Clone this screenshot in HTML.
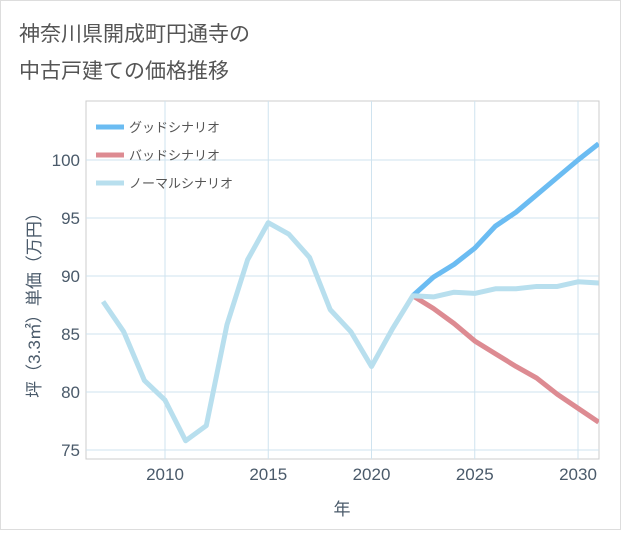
<!DOCTYPE html>
<html><head><meta charset="utf-8"><style>
body{margin:0;background:#fff;font-family:"Liberation Sans","Noto Sans CJK JP",sans-serif;}
#wrap{position:relative;width:621px;height:530px;box-sizing:border-box;border:1px solid #ddd;background:#fff;}
</style></head><body>
<div id="wrap">
<svg id="chart" width="621" height="530">
<text x="18" y="40" font-size="21" fill="#555">神奈川県開成町円通寺の</text>
<text x="18" y="77" font-size="21" fill="#555">中古戸建ての価格推移</text>
<g id="grid"></g><g id="axes"></g><g id="series"></g><g id="legend"></g>
</svg></div>
<script>
const years=[2007,2008,2009,2010,2011,2012,2013,2014,2015,2016,2017,2018,2019,2020,2021,2022,2023,2024,2025,2026,2027,2028,2029,2030,2031];
const normalVals=[87.8,85.2,81,79.3,75.8,77.1,85.8,91.4,94.6,93.6,91.6,87.1,85.2,82.2,85.4,88.3,88.2,88.6,88.5,88.9,88.9,89.1,89.1,89.5,89.4];
const futureYears=[2022,2023,2024,2025,2026,2027,2028,2029,2030,2031];
const goodVals=[88.3,89.9,91,92.4,94.3,95.5,97,98.5,100,101.4];
const badVals=[88.3,87.2,85.9,84.4,83.3,82.2,81.2,79.8,78.6,77.4];
const xTicks=[2010,2015,2020,2025,2030];
const yTicks=[75,80,85,90,95,100];
const legendLabels=["グッドシナリオ","バッドシナリオ","ノーマルシナリオ"];
const NS="http://www.w3.org/2000/svg";
const L=85,R=598,T=100,B=458;
const xS=y=>164+(y-2010)*(577-164)/20;
const yS=v=>449-(v-75)*(449-159)/25;
function mk(t,a,p){const e=document.createElementNS(NS,t);for(const k in a)e.setAttribute(k,a[k]);p.appendChild(e);return e;}
const grid=document.getElementById('grid'),axes=document.getElementById('axes'),ser=document.getElementById('series'),leg=document.getElementById('legend');
mk('rect',{x:L,y:T,width:R-L,height:B-T,fill:'none',stroke:'#ccc'},grid);
xTicks.forEach(t=>{const l=mk('line',{x1:xS(t),x2:xS(t),y1:T,y2:B,stroke:'#cfe3ef'},grid);

const tx=mk('text',{x:xS(t),y:B+21,'text-anchor':'middle','font-size':17,fill:'#4a5a6a'},axes);tx.textContent=t;
});
yTicks.forEach(t=>{const l=mk('line',{x1:L,x2:R,y1:yS(t),y2:yS(t),stroke:'#cfe3ef'},grid);

const tx=mk('text',{x:L-6,y:yS(t)+6,'text-anchor':'end','font-size':17,fill:'#4a5a6a'},axes);tx.textContent=t;
});
const xt=mk('text',{x:341,y:514,'text-anchor':'middle','font-size':17,fill:'#4a5a6a'},axes);xt.textContent='年';

const yt=mk('text',{x:0,y:0,'text-anchor':'middle','font-size':17,fill:'#4a5a6a',transform:'translate(39,300) rotate(-90)'},axes);yt.textContent='坪（3.3㎡）単価（万円）';

const cp=mk('clipPath',{id:'cp'},ser);mk('rect',{x:L,y:T,width:R-L,height:B-T},cp);
function line(xs,vs,col,name){const p=mk('polyline',{points:xs.map((y,i)=>xS(y)+','+yS(vs[i])).join(' '),fill:'none',stroke:col,'stroke-width':5,'stroke-linejoin':'round','clip-path':'url(#cp)'},ser);
}
line(futureYears,goodVals,'#6bbcf2','good-scenario-line');
line(futureYears,badVals,'#dd8b92','bad-scenario-line');
line(years,normalVals,'#b8dfee','normal-scenario-line');
const cols=['#6bbcf2','#dd8b92','#b8dfee'];
legendLabels.forEach((lb,i)=>{const y=126+i*28;
const s=mk('line',{x1:95,x2:123,y1:y,y2:y,stroke:cols[i],'stroke-width':5},leg);

const t=mk('text',{x:128,y:y+5,'font-size':13,fill:'#555'},leg);t.textContent=lb;
});
</script></body></html>
